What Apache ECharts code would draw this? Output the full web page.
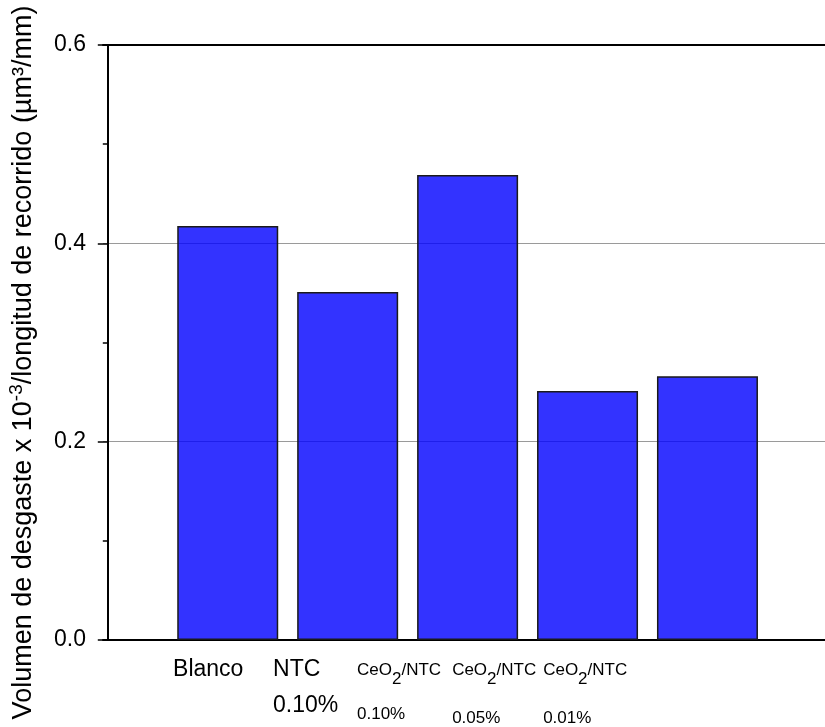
<!DOCTYPE html>
<html>
<head>
<meta charset="utf-8">
<script src="https://cdn.jsdelivr.net/npm/echarts@6/dist/echarts.min.js"></script>
<style>
html,body{margin:0;padding:0;background:#fff;}
#chart{width:825px;height:727px;}
</style>
</head>
<body>
<div id="chart"></div>
<script>
// ---- data ----
const categories = ['Blanco', 'NTC 0.10%', 'CeO2/NTC 0.10%', 'CeO2/NTC 0.05%', 'CeO2/NTC 0.01%'];
const xPositions = [1, 2, 3, 4, 5];
const wearValues = [0.4175, 0.351, 0.469, 0.251, 0.266];
const yTicks = [0.0, 0.2, 0.4, 0.6];
// label anchor positions (left edge of each label, axis units)
const labelAnchors = [0.544, 1.378, 2.078, 2.871, 3.63];
const labelRich = [
  '{big|Blanco}',
  '{big|NTC}\n{big2|0.10%}',
  '{sm|CeO}{sub|2}{sm|/NTC}\n{smA|0.10%}',
  '{sm|CeO}{sub|2}{sm|/NTC}\n{smB|0.05%}',
  '{sm|CeO}{sub|2}{sm|/NTC}\n{smB|0.01%}'
];

const SANS = "'Liberation Sans', Arial, sans-serif";

const chart = echarts.init(document.getElementById('chart'), null, {renderer: 'canvas'});

const option = {
  backgroundColor: '#fff',
  animation: false,
  grid: {left: 103, top: 45, width: 722, height: 595, containLabel: false, outerBoundsMode: 'none'},
  xAxis: [{
    type: 'value',
    position: 'bottom',
    min: -0.04,
    max: 5.98,
    axisLine: {show: true, onZero: false, lineStyle: {color: '#000', width: 2}},
    axisTick: {show: false},
    splitLine: {show: false},
    axisLabel: {
      show: true,
      customValues: labelAnchors,
      hideOverlap: false,
      showMinLabel: true,
      showMaxLabel: true,
      align: 'left',
      verticalAlign: 'top',
      margin: 13,
      color: '#000',
      formatter: function (v) {
        let best = 0, d = 1e9;
        labelAnchors.forEach((a, i) => { if (Math.abs(a - v) < d) { d = Math.abs(a - v); best = i; } });
        return labelRich[best];
      },
      rich: {
        big: {fontFamily: SANS, fontSize: 23, lineHeight: 34, color: '#000'},
        big2: {fontFamily: SANS, fontSize: 23, lineHeight: 37, color: '#000'},
        sm: {fontFamily: SANS, fontSize: 17, lineHeight: 34, color: '#000'},
        sub: {fontFamily: SANS, fontSize: 17, lineHeight: 34, padding: [18, 0, 0, 0], color: '#000'},
        smA: {fontFamily: SANS, fontSize: 17, lineHeight: 54, color: '#000'},
        smB: {fontFamily: SANS, fontSize: 17, lineHeight: 62, color: '#000'}
      }
    }
  }, {
    type: 'value',
    position: 'top',
    min: -0.04,
    max: 5.98,
    axisLine: {show: true, onZero: false, lineStyle: {color: '#000', width: 2}},
    axisTick: {show: false},
    axisLabel: {show: false},
    splitLine: {show: false}
  }],
  yAxis: {
    type: 'value',
    min: 0,
    max: 0.6,
    interval: 0.2,
    name: '{t|Volumen de desgaste x 10}{sup|-3}{t|/longitud de recorrido (µm³/mm)}',
    nameLocation: 'middle',
    nameRotate: 90,
    nameGap: 62,
    nameTextStyle: {
      padding: [0, 40, 0, 0],
      rich: {
        t: {fontFamily: SANS, fontSize: 27, color: '#000'},
        sup: {fontFamily: SANS, fontSize: 19, color: '#000', padding: [0, 0, 15, 0]}
      }
    },
    axisLine: {show: true, lineStyle: {color: '#000', width: 2}},
    axisTick: {show: true, inside: false, length: 10, lineStyle: {color: '#000', width: 1.5}},
    minorTick: {show: true, splitNumber: 2, length: 5, lineStyle: {color: '#000', width: 1.5}},
    axisLabel: {
      margin: 17,
      fontFamily: SANS,
      fontSize: 23,
      color: '#000',
      formatter: v => (yTicks.find(t => Math.abs(t - v) < 1e-9) ?? v).toFixed(1)
    },
    splitLine: {show: true, lineStyle: {color: '#9a9a9a', width: 1}}
  },
  series: [{
    type: 'bar',
    xAxisIndex: 0,
    data: xPositions.map((x, i) => [x, wearValues[i]]),
    barWidth: 101,
    itemStyle: {color: 'rgba(0,0,255,0.8)', borderColor: '#1a1a1a', borderWidth: 1.5}
  }]
};
chart.setOption(option);
</script>
</body>
</html>
